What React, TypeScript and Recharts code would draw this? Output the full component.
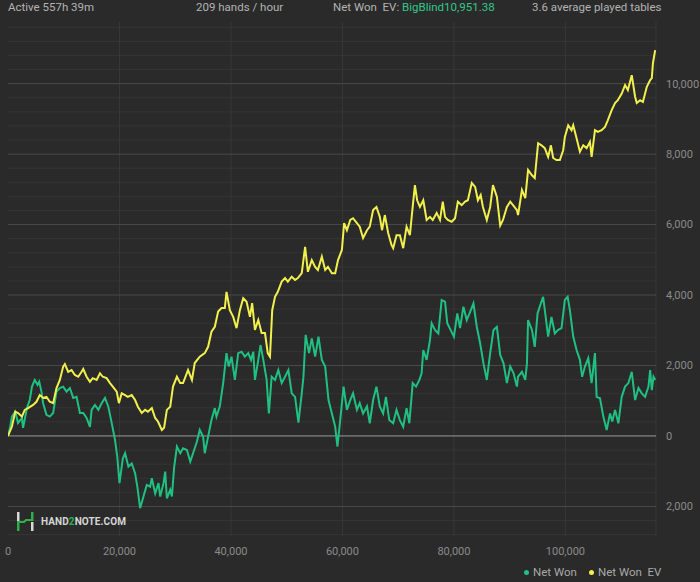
import React from 'react';
import { LineChart, Line, XAxis, YAxis, ReferenceLine } from 'recharts';

// ---- header texts ----
const headerActive = 'Active 557h 39m';
const headerHands = '209 hands / hour';
const headerNetLabel = 'Net Won  EV: ';
const headerNetValue = 'BigBlind10,951.38';
const headerTables = '3.6 average played tables';

// ---- axis ticks / grid ----
const xTicks = [0, 20000, 40000, 60000, 80000, 100000];
const xGridLines = [20000, 40000, 60000, 80000, 100000, 116250];
const yTicks = [-2000, 0, 2000, 4000, 6000, 8000, 10000];
const yMajorGrid = [-2000, 2000, 4000, 6000, 8000, 10000];
const yMinorGrid = [
  -2800, -2400, -1600, -1200, -800, -400, 400, 800, 1200, 1600, 2400, 2800, 3200, 3600,
  4400, 4800, 5200, 5600, 6400, 6800, 7200, 7600, 8400, 8800, 9200, 9600, 10400, 10800,
  11200, 11600,
];

// ---- series: [hands, big blinds] ----
const netWon: [number, number][] = [
  [0, 0], [400, 260], [700, 550], [1300, 690], [1800, 370], [2500, 510], [2700, 230], [3400, 790], [3900, 1020], [4300, 1400],
  [4800, 1590], [5300, 1450], [5600, 1540], [6000, 1260], [6300, 930], [6900, 600], [7500, 550], [8100, 650], [8700, 1260], [9300, 1360],
  [9900, 1400], [10500, 1260], [11100, 1360], [11700, 1080], [12300, 1110], [12900, 650], [13500, 650], [14100, 510], [14700, 260], [15000, 740],
  [15600, 880], [16200, 740], [16800, 930], [17400, 1080], [18000, 830], [18600, 370], [19200, -110], [19600, -590], [20000, -1340], [20600, -640],
  [21000, -490], [21600, -870], [22200, -780], [22800, -1060], [23200, -1440], [23700, -2050], [24300, -1720], [24900, -1390], [25500, -1440], [25800, -1200],
  [26400, -1630], [27000, -1340], [27300, -1720], [27900, -1340], [28200, -1010], [28500, -1770], [29100, -1530], [29400, -1720], [29800, -900], [30300, -300],
  [30900, -490], [31400, -350], [32100, -400], [32700, -730], [33200, -490], [33900, -160], [34400, 170], [35000, -20], [35300, -490], [35900, -20],
  [36500, 450], [37100, 790], [37400, 550], [38000, 840], [38600, 1500], [39200, 2350], [39600, 1970], [40100, 2250], [40700, 1590], [41300, 2350],
  [41900, 2390], [42500, 2250], [43100, 2350], [43600, 2160], [44000, 2390], [44300, 1590], [44900, 2160], [45300, 2580], [45800, 2160], [46400, 1590],
  [46800, 640], [47300, 1680], [47900, 1590], [48500, 1870], [49100, 1500], [49700, 1680], [50300, 1870], [50900, 1210], [51500, 1110], [52100, 380],
  [52700, 1210], [53000, 1680], [53400, 2870], [54000, 2350], [54500, 2770], [55100, 2250], [55700, 2820], [56300, 2160], [56900, 1970], [57500, 1020],
  [58100, 640], [58700, 260], [59100, -300], [59600, 450], [60200, 1400], [60800, 740], [61400, 1020], [61900, 1210], [62600, 740], [63100, 930],
  [63700, 640], [64400, 840], [64900, 360], [65500, 1020], [66100, 1400], [66700, 840], [67300, 640], [67800, 1110], [68400, 450], [69100, 360],
  [69700, 740], [70300, 450], [70900, 260], [71500, 790], [72000, 360], [72600, 1500], [73200, 1400], [73800, 1590], [74200, 1780], [74500, 2440],
  [75100, 2160], [75700, 2720], [76000, 3200], [76600, 3010], [77200, 2910], [77800, 3860], [78400, 3810], [78800, 3200], [79400, 3010], [80000, 2820],
  [80600, 3480], [81100, 3060], [81700, 3670], [82300, 3290], [82800, 3480], [83500, 3760], [84100, 3100], [84700, 2630], [85300, 2060], [85900, 1590],
  [86500, 2350], [87100, 3010], [87700, 3100], [88300, 2300], [88900, 2060], [89500, 1500], [90100, 1970], [90700, 1780], [91300, 1400], [91500, 1680],
  [92200, 1820], [92800, 1590], [93100, 2060], [93300, 3290], [94000, 3010], [94500, 2530], [95000, 3480], [95400, 3670], [96000, 3950], [96600, 3200],
  [96900, 2820], [97500, 3380], [98100, 2910], [98700, 3010], [99300, 3060], [99900, 3860], [100400, 3950], [100800, 3570], [101400, 2820], [102000, 2440],
  [102600, 2160], [103000, 1680], [103500, 1970], [104100, 2210], [104700, 1500], [105300, 2350], [105600, 1110], [106200, 1070], [106800, 550], [107400, 170],
  [108000, 640], [108400, 410], [108900, 740], [109500, 360], [110100, 1110], [110700, 1400], [111300, 1500], [111900, 1820], [112500, 1020], [113100, 1360],
  [113700, 1210], [114300, 1110], [114900, 1400], [115200, 1870], [115500, 1300], [115800, 1680], [116100, 1590],
];

const netWonEV: [number, number][] = [
  [0, 0], [700, 260], [1300, 690], [1800, 650], [2500, 550], [3000, 740], [3600, 790], [4500, 880], [5100, 970], [5700, 1160],
  [6300, 1080], [6900, 1110], [7500, 970], [8100, 930], [8700, 1360], [9300, 1590], [9900, 1970], [10200, 2040], [10800, 1820], [11400, 1870],
  [12000, 1730], [12600, 1680], [13200, 1820], [13500, 1900], [14100, 1680], [14700, 1540], [15200, 1640], [15900, 1590], [16500, 1780], [17000, 1680],
  [17700, 1640], [18300, 1500], [18800, 1400], [19500, 1260], [19900, 930], [20400, 1210], [21000, 1160], [21500, 1110], [22200, 1160], [22800, 1020],
  [23300, 830], [24000, 650], [24600, 740], [25100, 690], [25800, 790], [26400, 510], [26900, 410], [27600, 170], [28000, 230], [28500, 740],
  [29100, 830], [29600, 1400], [30300, 1680], [30900, 1500], [31400, 1500], [32300, 1870], [33000, 1590], [33500, 2070], [34400, 2250], [35300, 2350],
  [35900, 2530], [36500, 2960], [37100, 3100], [37700, 3530], [38300, 3630], [38900, 3630], [39200, 4090], [39800, 3570], [40400, 3380], [41000, 3060],
  [41600, 3570], [42200, 3910], [42800, 3810], [43400, 3380], [43800, 3770], [44300, 3010], [44900, 3290], [45500, 2920], [46100, 2920], [46600, 2350],
  [47000, 2250], [47400, 3570], [47900, 3950], [48400, 4090], [49100, 4380], [49700, 4480], [50200, 4380], [50900, 4520], [51500, 4430], [52000, 4480],
  [52700, 4620], [53300, 5370], [53800, 4660], [54500, 4990], [55100, 4800], [55600, 4710], [56300, 5090], [56900, 4710], [57400, 4800], [58100, 4620],
  [58700, 4620], [59200, 4990], [59900, 5280], [60300, 6040], [60800, 5840], [61400, 6130], [61900, 6180], [62600, 6040], [63100, 5940], [63700, 5620],
  [64400, 5840], [64900, 5940], [65500, 6410], [66100, 6500], [66700, 6220], [67100, 5840], [67600, 6270], [68200, 5760], [68800, 5420], [69100, 5330],
  [69700, 5700], [70300, 5700], [70900, 5330], [71500, 5940], [72100, 5700], [72600, 6500], [73000, 7120], [73400, 6690], [73900, 6500], [74500, 6690],
  [75100, 6130], [75700, 6220], [76200, 6130], [76900, 6330], [77500, 6130], [78000, 6650], [78400, 6220], [78900, 6130], [79600, 6080], [80200, 6180],
  [80700, 6650], [81400, 6550], [82000, 6650], [82500, 6690], [83200, 7180], [83800, 7070], [84300, 6690], [84800, 6840], [85200, 6500], [85900, 6130],
  [86500, 6500], [87000, 7120], [87700, 6790], [88300, 5970], [88800, 6130], [89500, 6500], [90100, 6650], [90600, 6550], [91300, 6410], [91500, 6270],
  [92200, 6980], [92800, 6750], [93300, 7550], [94000, 7400], [94500, 7320], [95100, 8310], [95700, 8250], [96300, 8170], [96900, 7920], [97400, 8250],
  [97800, 7890], [98400, 7830], [99000, 7830], [99600, 8110], [99900, 8490], [100500, 8820], [101100, 8680], [101400, 8820], [102000, 8450], [102600, 8070],
  [103200, 8250], [103800, 8170], [104400, 8350], [104700, 7920], [105300, 8680], [105800, 8630], [106500, 8680], [107100, 8770], [107600, 8960], [108300, 9250],
  [108900, 9450], [109400, 9530], [110100, 9720], [110700, 9960], [111200, 9820], [111900, 10240], [112500, 9630], [112800, 9450], [113400, 9530], [113900, 9480],
  [114600, 9910], [115200, 10100], [115500, 10160], [115700, 10580], [116100, 10951.38],
];

const seriesNames = ['Net Won', 'Net Won  EV'];

const BG = '#2a2a2a';
const GREEN = '#20c083';
const YELLOW = '#f2f04c';
const TEXT = '#b3b3b3';
const AXIS_TEXT = '#8a8a8a';
const FONT = 'Roboto, "Noto Sans", sans-serif';

const netWonData = netWon.map(([h, v]) => ({ h, v }));
const netWonEVData = netWonEV.map(([h, v]) => ({ h, v }));

const fmt = (v: number) => Math.abs(v).toLocaleString('en-US');

export default function App() {
  return (
    <div
      style={{
        position: 'absolute',
        left: 0,
        top: 0,
        width: 700,
        height: 582,
        background: BG,
        fontFamily: FONT,
        overflow: 'hidden',
      }}
    >
      <div style={{ position: 'absolute', top: 0, left: 0, width: 700, height: 14, fontSize: 11.5, lineHeight: '14px', color: TEXT, whiteSpace: 'pre' }}>
        <span style={{ position: 'absolute', left: 8 }}>{headerActive}</span>
        <span style={{ position: 'absolute', left: 196 }}>{headerHands}</span>
        <span style={{ position: 'absolute', left: 333 }}>
          {headerNetLabel}
          <span style={{ color: '#2fc98a' }}>{headerNetValue}</span>
        </span>
        <span style={{ position: 'absolute', left: 532 }}>{headerTables}</span>
      </div>

      <div style={{ position: 'absolute', left: 0, top: 0 }}>
        <LineChart width={700} height={582} margin={{ top: 22, right: 0, left: 8, bottom: 26 }}>
          <XAxis
            type="number"
            dataKey="h"
            domain={[0, 116250]}
            ticks={xTicks}
            allowDataOverflow
            tickFormatter={fmt}
            axisLine={false}
            tickLine={false}
            tickMargin={5}
            height={20}
            tick={{ fill: AXIS_TEXT, fontSize: 11, fontFamily: FONT }}
          />
          <YAxis
            type="number"
            orientation="right"
            domain={[-2840, 11750]}
            ticks={yTicks}
            allowDataOverflow
            tickFormatter={fmt}
            axisLine={false}
            tickLine={false}
            tickMargin={4}
            width={44}
            tick={{ fill: AXIS_TEXT, fontSize: 11, fontFamily: FONT }}
          />
          {yMinorGrid.map((v) => (
            <ReferenceLine key={'mn' + v} y={v} stroke="#353535" strokeWidth={1} />
          ))}
          {xGridLines.map((v) => (
            <ReferenceLine key={'vx' + v} x={v} stroke="#383838" strokeWidth={1} />
          ))}
          {yMajorGrid.map((v) => (
            <ReferenceLine key={'mj' + v} y={v} stroke="#4a4a4a" strokeWidth={1} />
          ))}
          <ReferenceLine y={0} stroke="#9a9a9a" strokeWidth={1} />
          <Line
            data={netWonData}
            dataKey="v"
            name={seriesNames[0]}
            type="linear"
            stroke={GREEN}
            strokeWidth={2}
            dot={false}
            isAnimationActive={false}
          />
          <Line
            data={netWonEVData}
            dataKey="v"
            name={seriesNames[1]}
            type="linear"
            stroke={YELLOW}
            strokeWidth={2}
            dot={false}
            isAnimationActive={false}
          />
        </LineChart>
      </div>

      {/* logo */}
      <div style={{ position: 'absolute', left: 15, top: 512, display: 'flex', alignItems: 'center' }}>
        <svg width={20} height={19} viewBox="0 0 20 19">
          <rect x={2} y={0} width={2.5} height={9} fill="#d8d8d8" />
          <rect x={2} y={9} width={2.5} height={10} fill="#2fae4a" />
          <rect x={16} y={0} width={2.5} height={9} fill="#2fae4a" />
          <rect x={16} y={10} width={2.5} height={9} fill="#d8d8d8" />
          <polyline points="3,10 9,10 11,8 17,8" fill="none" stroke="#2fae4a" strokeWidth={2.2} />
        </svg>
        <span style={{ marginLeft: 6, fontSize: 10, fontWeight: 700, color: '#d6d6d6', letterSpacing: 0.1 }}>
          HAND<span style={{ color: '#2fae4a' }}>2</span>NOTE.COM
        </span>
      </div>

      {/* legend */}
      <div style={{ position: 'absolute', top: 565, left: 0, width: 700, height: 14, fontSize: 11.5, lineHeight: '14px', color: '#a8a8a8', whiteSpace: 'pre' }}>
        <span style={{ position: 'absolute', left: 524, display: 'flex', alignItems: 'center' }}>
          <span style={{ display: 'inline-block', width: 5, height: 5, borderRadius: 3, background: GREEN, marginRight: 4 }} />
          {seriesNames[0]}
        </span>
        <span style={{ position: 'absolute', left: 589, display: 'flex', alignItems: 'center' }}>
          <span style={{ display: 'inline-block', width: 5, height: 5, borderRadius: 3, background: YELLOW, marginRight: 4 }} />
          {seriesNames[1]}
        </span>
      </div>
    </div>
  );
}
